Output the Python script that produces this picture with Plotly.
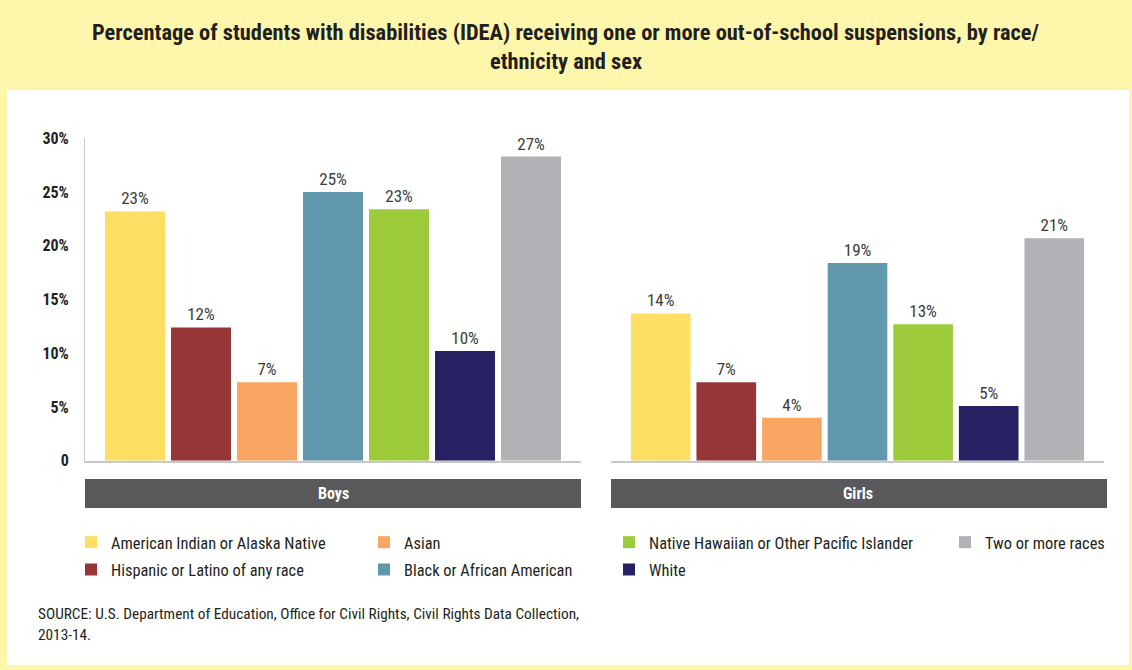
import plotly.graph_objects as go

# ---- data ----
groups = ["Boys", "Girls"]
races = [
    "American Indian or Alaska Native",
    "Hispanic or Latino of any race",
    "Asian",
    "Black or African American",
    "Native Hawaiian or Other Pacific Islander",
    "White",
    "Two or more races",
]
boys_values = [23.2, 12.4, 7.3, 25.0, 23.4, 10.2, 28.3]
girls_values = [13.7, 7.3, 4.0, 18.4, 12.7, 5.1, 20.7]
boys_labels = ["23%", "12%", "7%", "25%", "23%", "10%", "27%"]
girls_labels = ["14%", "7%", "4%", "19%", "13%", "5%", "21%"]
ytick_vals = [0, 5, 10, 15, 20, 25, 30]
ytick_text = ["0", "5%", "10%", "15%", "20%", "25%", "30%"]
title_line1 = "Percentage of students with disabilities (IDEA) receiving one or more out-of-school suspensions, by race/"
title_line2 = "ethnicity and sex"
source_line1 = "SOURCE: U.S. Department of Education, Office for Civil Rights, Civil Rights Data Collection,"
source_line2 = "2013-14."

colors = ["#FFDF63", "#963637", "#F9A662", "#6198AD", "#9ECB3C", "#262163", "#B1B2B5"]
legend_ids = ["legend", "legend", "legend2", "legend2", "legend3", "legend3", "legend4"]

W, H = 1132, 670
FONT = "Liberation Sans Narrow, Roboto Condensed, Arial Narrow, Roboto, sans-serif"


def px_x(v):
    return v / W


def px_y(v):
    return (H - v) / H


fig = go.Figure()
for i, race in enumerate(races):
    fig.add_trace(go.Bar(
        x=[groups[0]], y=[boys_values[i]], name=race,
        marker=dict(color=colors[i], line=dict(width=0)),
        text=[boys_labels[i]], texttemplate="%{text}", textposition="outside",
        textfont=dict(family=FONT, size=17, color="#3C3C3C"),
        cliponaxis=False, xaxis="x", yaxis="y",
        legend=legend_ids[i], legendgroup=race, showlegend=True,
    ))
    fig.add_trace(go.Bar(
        x=[groups[1]], y=[girls_values[i]], name=race,
        marker=dict(color=colors[i], line=dict(width=0)),
        text=[girls_labels[i]], texttemplate="%{text}", textposition="outside",
        textfont=dict(family=FONT, size=17, color="#3C3C3C"),
        cliponaxis=False, xaxis="x2", yaxis="y2",
        legend=legend_ids[i], legendgroup=race, showlegend=False,
    ))

y_dom = [px_y(460.7), px_y(138.3)]
fig.update_layout(
    width=W, height=H,
    margin=dict(l=0, r=0, t=0, b=0, autoexpand=False),
    paper_bgcolor="#FEF6AA",
    plot_bgcolor="rgba(0,0,0,0)",
    barmode="group",
    bargap=0.0685,
    bargroupgap=0.0909,
    font=dict(family=FONT, color="#231F20"),
    xaxis=dict(domain=[px_x(85), px_x(581)], range=[-0.5, 0.5], showticklabels=False,
               showline=True, linecolor="#C8C8C8", linewidth=2, ticks="", showgrid=False,
               zeroline=False, fixedrange=True, automargin=False),
    xaxis2=dict(domain=[px_x(611), px_x(1104)], range=[-0.5, 0.5], showticklabels=False,
                showline=True, linecolor="#C8C8C8", linewidth=2, ticks="", showgrid=False,
                zeroline=False, fixedrange=True, automargin=False),
    yaxis=dict(domain=y_dom, range=[0, 30], tickvals=ytick_vals, ticktext=ytick_text,
               showline=True, linecolor="#C8C8C8", linewidth=1, showgrid=False, zeroline=False,
               ticks="", ticklabelstandoff=12, automargin=False,
               tickfont=dict(family=FONT, size=16, color="#231F20", weight="bold")),
    yaxis2=dict(domain=y_dom, range=[0, 30], showticklabels=False, showline=False,
                showgrid=False, zeroline=False, anchor="x2", automargin=False),
    showlegend=True,
)

legend_common = dict(orientation="v", xanchor="left", yanchor="top", bgcolor="rgba(0,0,0,0)",
                     font=dict(family=FONT, size=16.4, color="#231F20"), tracegroupgap=3,
                     itemclick=False, itemdoubleclick=False)
fig.update_layout(
    legend=dict(x=px_x(71), y=px_y(525), **legend_common),
    legend2=dict(x=px_x(364), y=px_y(525), **legend_common),
    legend3=dict(x=px_x(609), y=px_y(525), **legend_common),
    legend4=dict(x=px_x(945), y=px_y(525), **legend_common),
)

shapes = [
    # white panel
    dict(type="rect", xref="paper", yref="paper", x0=px_x(7), x1=px_x(1129), y0=px_y(665), y1=px_y(90),
         fillcolor="white", line=dict(width=0), layer="below"),
    # group bands
    dict(type="rect", xref="x domain", yref="paper", x0=0, x1=1, y0=px_y(508), y1=px_y(479),
         fillcolor="#59595B", line=dict(width=0), layer="below"),
    dict(type="rect", xref="x2 domain", yref="paper", x0=0, x1=1.0061, y0=px_y(508), y1=px_y(479),
         fillcolor="#59595B", line=dict(width=0), layer="below"),
]
fig.update_layout(shapes=shapes)

annotations = [
    dict(text=f"<b>{title_line1}</b>", x=px_x(566), y=px_y(32), xref="paper", yref="paper",
         showarrow=False, xanchor="center", yanchor="middle",
         font=dict(family=FONT, size=22.4, color="#231F20")),
    dict(text=f"<b>{title_line2}</b>", x=px_x(566), y=px_y(61), xref="paper", yref="paper",
         showarrow=False, xanchor="center", yanchor="middle",
         font=dict(family=FONT, size=22.4, color="#231F20")),
    dict(text=f"<b>{groups[0]}</b>", x=0.5, y=px_y(493.5), xref="x domain", yref="paper",
         showarrow=False, xanchor="center", yanchor="middle",
         font=dict(family=FONT, size=16, color="white")),
    dict(text=f"<b>{groups[1]}</b>", x=0.5, y=px_y(493.5), xref="x2 domain", yref="paper",
         showarrow=False, xanchor="center", yanchor="middle",
         font=dict(family=FONT, size=16, color="white")),
    dict(text=source_line1, x=px_x(36), y=px_y(614), xref="paper", yref="paper",
         showarrow=False, xanchor="left", yanchor="middle", align="left",
         font=dict(family=FONT, size=15.3, color="#231F20")),
    dict(text=source_line2, x=px_x(36), y=px_y(635), xref="paper", yref="paper",
         showarrow=False, xanchor="left", yanchor="middle", align="left",
         font=dict(family=FONT, size=15.3, color="#231F20")),
]
fig.update_layout(annotations=annotations)

fig.write_html("out.html", include_plotlyjs=True, config={"displayModeBar": False})
